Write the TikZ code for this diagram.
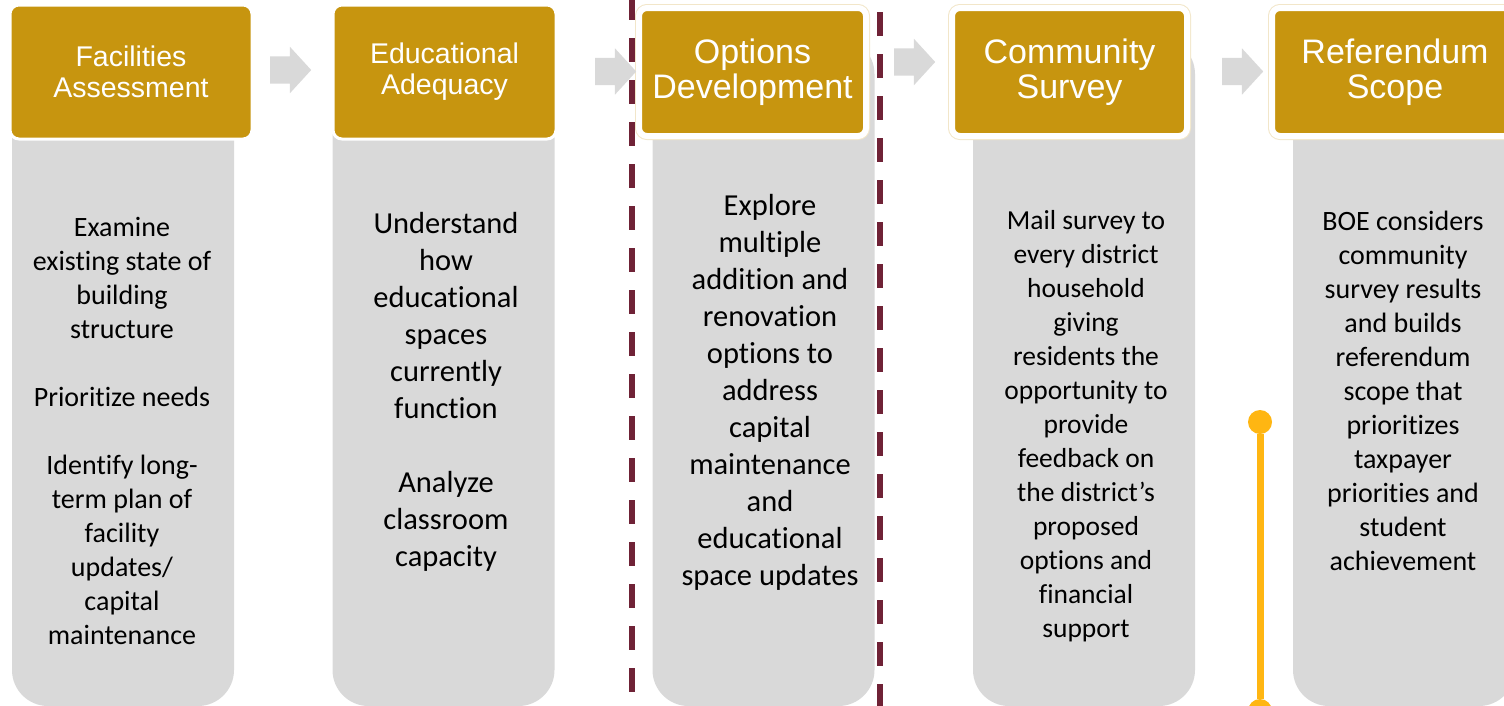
\documentclass[tikz,border=0pt]{standalone}
\usepackage{fontspec}
\setmainfont{Carlito}[Ligatures=NoCommon]
\newfontfamily\headfont{Liberation Sans}
\usepackage{xcolor}
\usepackage{tikz}
\usetikzlibrary{shapes.arrows}
\definecolor{gold}{HTML}{C7950F}
\definecolor{boxgray}{HTML}{D9D9D9}
\definecolor{cream}{HTML}{F2E6C9}
\definecolor{maroon}{HTML}{6F2236}
\definecolor{amber}{HTML}{FFB612}
\tikzstyle{body}       = [rectangle, rounded corners=36pt, minimum width=222pt, minimum height=668pt, fill=boxgray, inner sep=0pt]
\tikzstyle{header}     = [rectangle, rounded corners=9pt, minimum height=134pt, fill=gold, draw=white, line width=3pt, text=white, align=center, inner sep=0pt, font=\headfont\fontsize{28.5}{31}\selectfont]
\tikzstyle{headerwide} = [header, minimum height=128pt, rounded corners=8pt, line width=6pt, preaction={draw=cream, line width=8pt}, font=\headfont\fontsize{34}{37}\selectfont]
\tikzstyle{bodytext}   = [align=center, text=black, inner sep=0pt, font=\fontsize{28}{34}\selectfont]
\tikzstyle{blockarrow} = [single arrow, anchor=tail, fill=boxgray, minimum height=41pt, minimum width=46pt, single arrow head extend=9.5pt, single arrow tip angle=95, inner xsep=0pt, inner ysep=13.5pt]
\tikzstyle{divider}    = [maroon, line width=5.5pt, dash pattern=on 24pt off 18pt]
\tikzstyle{marker}     = [circle, fill=amber, minimum size=24pt, inner sep=0pt]
\tikzstyle{track}      = [amber, line width=7pt]

\begin{document}
\begin{tikzpicture}[x=1pt, y=-1pt]
    \useasboundingbox (0,0) rectangle (1504,705);

    % grey columns
    \node (G1) [body] at (123,372)  {};
    \node (G2) [body] at (443.5,372) {};
    \node (G3) [body] at (763.5,372) {};
    \node (G4) [body] at (1084,372) {};
    \node (G5) [body] at (1404,372) {};

    % step headers
    \node (H1) [header, minimum width=242pt]     at (131,72)    {Facilities\\Assessment};
    \node (H2) [header, minimum width=223pt]     at (444.5,72)  {Educational\\Adequacy};
    \node (H3) [headerwide, minimum width=227pt] at (752.5,72)  {\raisebox{-2pt}{Options}\\Development};
    \node (H4) [headerwide, minimum width=235pt] at (1069.5,72) {\raisebox{-2pt}{Community}\\Survey};
    \node (H5) [headerwide, minimum width=246pt] at (1395,72)   {\raisebox{-2pt}{Referendum}\\Scope};

    \node (A1) [blockarrow] at (270,70)   {};
    \node (A2) [blockarrow] at (595,71.5) {};
    \node (A3) [blockarrow] at (894,62)   {};
    \node (A4) [blockarrow] at (1222,71.5) {};

    % descriptions
    \node (T1) [bodytext] at (122,431) {Examine\\existing state of\\building\\structure\\[34pt]Prioritize needs\\[34pt]Identify long-\\term plan of\\facility\\updates/\\capital\\maintenance};
    \node (T2) [bodytext, font=\fontsize{30.5}{37}\selectfont] at (446,392) {Understand\\how\\educational\\spaces\\currently\\function\\[37pt]Analyze\\classroom\\capacity};
    \node (T3) [bodytext, font=\fontsize{30.5}{37}\selectfont] at (770,392) {Explore\\multiple\\addition and\\renovation\\options to\\address\\capital\\maintenance\\and\\educational\\space updates};
    \node (T4) [bodytext, font=\fontsize{27.5}{34}\selectfont] at (1086,426) {Mail survey to\\every district\\household\\giving\\residents the\\opportunity to\\provide\\feedback on\\the district’s\\proposed\\options and\\financial\\support};
    \node (T5) [bodytext] at (1403,391) {BOE considers\\community\\survey results\\and builds\\referendum\\scope that\\prioritizes\\taxpayer\\priorities and\\student\\achievement};

    % phase boundaries
    \draw [divider] (632,-4) -- (632,710);
    \draw [divider] (880,12) -- (880,710);

    \node (M1) [marker] at (1260,422) {};
    \node (M2) [marker] at (1260,711) {};
    \draw [track] (M1) -- (M2);
\end{tikzpicture}
\end{document}
